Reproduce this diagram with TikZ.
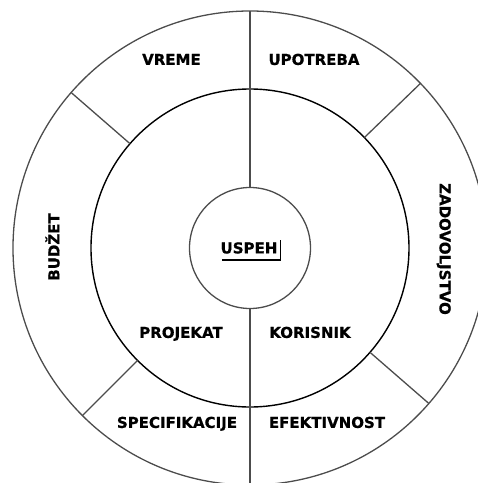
\documentclass[tikz,border=0pt]{standalone}
\usepackage{fontspec}
\setmainfont{DejaVu Sans}[BoldFeatures={FakeBold=0.8}]
\usepackage{tikz}
\usetikzlibrary{
  positioning,
  shapes.geometric,
  calc
}

\begin{document}
\begin{tikzpicture}[
  x=1pt, y=1pt,
  ring/.style={
    draw=black!70, line width=1.3pt,
    circle, inner sep=0pt, outer sep=0pt
  },
  spoke/.style={
    line width=1.3pt, draw=black!70
  },
  seg/.style={
    font=\fontsize{15}{18}\selectfont\bfseries,
    text height=10.8pt, text depth=0pt, inner sep=0pt
  }
]
\useasboundingbox (-250,-235) rectangle (228,248);

\node[ring, minimum size=474pt] (outer) at (0, 0) {};
\node[ring, minimum size=318pt, draw=black, line width=1.4pt] (mid) at (0, 0) {};
\node[ring, minimum size=121pt] (core) at (0, 0) {};

% spokes
\draw[spoke] (outer.90) -- (core.90);
\draw[spoke] (core.270) -- (outer.270);
\draw[spoke] (mid.139) -- (outer.139);
\draw[spoke] (mid.44) -- (outer.44);
\draw[spoke] (mid.225) -- (outer.225);
\draw[spoke] (mid.319) -- (outer.319);

\node[seg] (vreme)    at (-78.5, 188.5) {VREME};
\node[seg] (upotreba) at ( 64, 188.5)  {UPOTREBA};
\node[seg, rotate=-90] (zadov) at (195, -1) {ZADOVOLJSTVO};
\node[seg, rotate=90]  (budzet) at (-196, 1) {BUDŽET};
\node[seg] (projekat) at (-69, -84.5)  {PROJEKAT};
\node[seg] (korisnik) at ( 60, -84.5)  {KORISNIK};
\node[seg] (spec)     at (-73, -174.5) {SPECIFIKACIJE};
\node[seg] (efekt)    at ( 77, -174.5) {EFEKTIVNOST};
\node[seg] (uspeh)    at (-1, 0)       {USPEH};

\draw[line width=2pt] ([shift={(2pt,-6.5pt)}]uspeh.south west)
  -- ([shift={(3.5pt,-6.5pt)}]uspeh.south east);
\draw[line width=1.4pt] ([shift={(2.8pt,-6.5pt)}]uspeh.south east)
  -- ([shift={(2.8pt,2.5pt)}]uspeh.north east);
\end{tikzpicture}
\end{document}
